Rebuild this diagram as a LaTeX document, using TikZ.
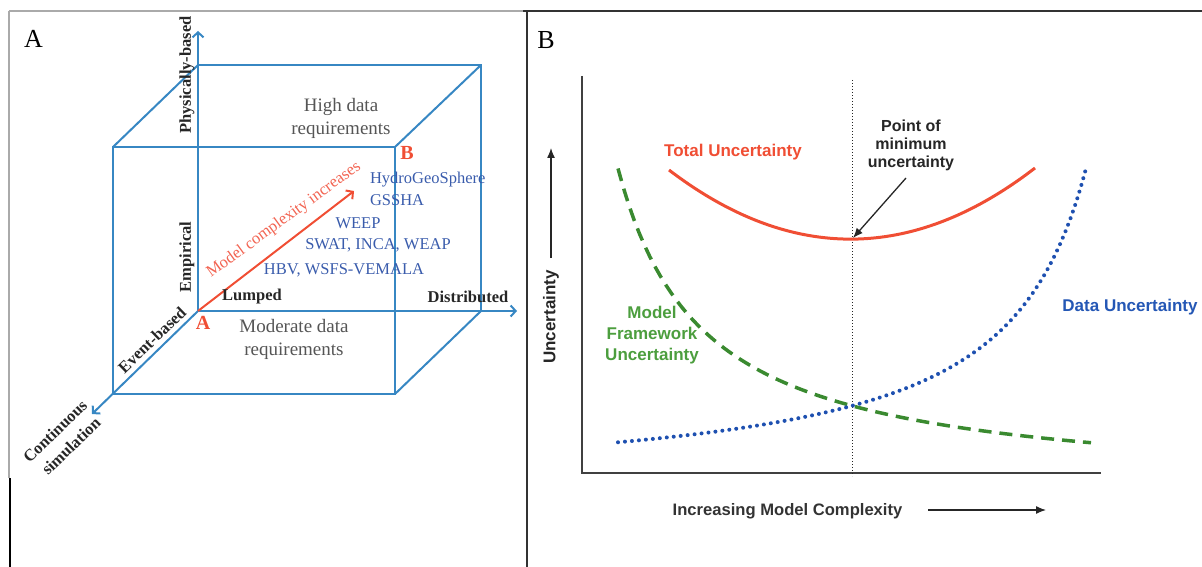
\documentclass[tikz,border=0pt]{standalone}
\usepackage{fontspec}
\setmainfont{Liberation Serif}
\setsansfont{Liberation Sans}
\usetikzlibrary{arrows.meta}

\definecolor{cubeblue}{RGB}{55,135,195}
\definecolor{modelblue}{RGB}{58,92,172}
\definecolor{redc}{RGB}{240,78,52}
\definecolor{redtext}{RGB}{242,100,82}
\definecolor{graytext}{RGB}{85,85,85}
\definecolor{greenline}{RGB}{58,138,48}
\definecolor{greentext}{RGB}{76,158,62}
\definecolor{dotblue}{RGB}{30,80,176}
\definecolor{bluetext}{RGB}{36,87,181}
\definecolor{framedark}{RGB}{50,50,50}
\definecolor{framelight}{RGB}{170,170,170}

\newcommand\setfs[2]{\fontsize{#1}{#2}\selectfont}

\begin{document}
\begin{tikzpicture}[x=1pt,y=-1pt,
  lbl/.style={inner sep=0pt,outer sep=0pt},
  panellbl/.style={lbl,font=\setfs{26}{30}},
  axislbl/.style={lbl,text=black!85,font=\setfs{16.5}{20}\bfseries},
  datareq/.style={lbl,align=center,text=graytext,font=\setfs{19}{23}},
  modellbl/.style={lbl,text=modelblue,font=\setfs{16.5}{20}},
  cornerlbl/.style={lbl,text=redc,font=\setfs{20}{24}\bfseries},
  sanslbl/.style={lbl,align=center,font=\sffamily\bfseries\setfs{17}{21}},
  cubeline/.style={draw=cubeblue,line width=2pt},
  cubeaxis/.style={cubeline,-{Straight Barb[length=5pt,width=11pt]}},
  plotaxis/.style={draw=black!75,line width=1.5pt},
  thinarrow/.style={draw=black!85,line width=1.3pt,-{Latex[length=10pt,width=8pt]}},
]
\useasboundingbox (0,0) rectangle (1202,567);

% ---------- frame ----------
\draw[framelight,line width=1.5pt] (9,11) -- (523,11);
\draw[framedark,line width=1.5pt] (523,11) -- (1202,11);
\draw[framedark,line width=1.5pt] (527,11) -- (527,567);
\draw[framelight,line width=2.5pt] (9,11) -- (9,478);
\draw[black,line width=1.5pt] (10,478) -- (10,567);

% ---------- panel A: model classification cube ----------
\coordinate (O)   at (198,311);
\coordinate (BTL) at (198,65);
\coordinate (BTR) at (481,65);
\coordinate (BBR) at (481,311);
\coordinate (FTL) at (113,147);
\coordinate (FTR) at (395,147);
\coordinate (FBR) at (395,394);
\coordinate (FBL) at (113,394);
\coordinate (ZT)  at (198,31);
\coordinate (XT)  at (517,311);
\coordinate (DT)  at (92,414);
\coordinate (RT)  at (354,191);

\draw[cubeline] (FTL) -- (FTR) -- (FBR) -- (FBL) -- cycle;
\draw[cubeline] (BTL) -- (BTR) -- (BBR);
\draw[cubeline] (FTL) -- (BTL);
\draw[cubeline] (FTR) -- (BTR);
\draw[cubeline] (FBR) -- (BBR);
\draw[cubeaxis] (O) -- (ZT);
\draw[cubeaxis] (O) -- (XT);
\draw[cubeaxis] (O) -- (DT);
\draw[draw=redc,line width=2pt,-{Straight Barb[length=5pt,width=11pt]}] (O) -- (RT);

\node[panellbl] (pA) at (33.5,39) {A};
\node[axislbl,rotate=90] (phys) at (187,75) {Physically-based};
\node[axislbl,rotate=90] (emp) at (187,257) {Empirical};
\node[axislbl] (lumped) at (252,297) {Lumped};
\node[axislbl] (distr) at (468,297) {Distributed};
\node[axislbl,rotate=44] (event) at (152,340) {Event-based};
\node[axislbl,rotate=44] (cont1) at (55,431) {Continuous};
\node[axislbl,rotate=44] (cont2) at (71,446) {simulation};
\node[datareq] (high) at (341,118) {High data\\requirements};
\node[datareq] (moder) at (294,339) {Moderate data\\requirements};
\node[cornerlbl] (cB) at (407,153) {B};
\node[cornerlbl] (cA) at (203,323) {A};
\node[lbl,rotate=36,text=redtext,font=\setfs{16.5}{20}] (mci) at (284,220) {Model complexity increases};
\node[modellbl,anchor=west] (hgs) at (370,180) {HydroGeoSphere};
\node[modellbl,anchor=west] (gssha) at (370,200) {GSSHA};
\node[modellbl] (weep) at (358,223) {WEEP};
\node[modellbl] (swat) at (378,245) {SWAT, INCA, WEAP};
\node[modellbl] (hbv) at (344,270) {HBV, WSFS-VEMALA};

% ---------- panel B: uncertainty vs. complexity ----------
\node[panellbl] (pB) at (546,40) {B};

\coordinate (yaxTop) at (582,76);
\coordinate (orig)   at (582,473);
\coordinate (xaxEnd) at (1101,473);
\draw[plotaxis] (yaxTop) -- (orig) -- (xaxEnd);

\coordinate (vTop) at (852,80);
\coordinate (vBot) at (852,476);
\draw[black!85,line width=1pt,dash pattern=on 1pt off 2pt] (vTop) -- (vBot);

% total uncertainty (parabola)
\draw[redc,line width=3pt] (669,170) .. controls (791,263) and (913,262) .. (1035,168);
% model framework uncertainty (decreasing)
\draw[greenline,line width=3.5pt,dash pattern=on 13pt off 8pt]
  plot[domain=618:1091,samples=90] (\x,{492-275/((\x-533)/100)});
% data uncertainty (increasing)
\draw[dotblue,line width=4pt,line cap=round,dash pattern=on 0pt off 7pt]
  plot[domain=618:1086,samples=90] (\x,{492-275/((1171-\x)/100)});

\node[sanslbl,text=redc] (tot) at (733,152) {Total Uncertainty};
\node[sanslbl,text=black!85,font=\sffamily\bfseries\setfs{16}{18}] (pmin) at (911,145) {Point of\\minimum\\uncertainty};
\coordinate (pminStart) at (906,178);
\coordinate (minpt) at (853,238);
\draw[thinarrow] (pminStart) -- (minpt);

\node[sanslbl,text=greentext] (mfu) at (652,335) {Model\\Framework\\Uncertainty};
\node[sanslbl,text=bluetext] (du) at (1130,307) {Data Uncertainty};

\node[sanslbl,text=black!85,rotate=90] (unc) at (551,317) {Uncertainty};
\coordinate (uArrBot) at (551,258);
\coordinate (uArrTop) at (551,148);
\draw[thinarrow] (uArrBot) -- (uArrTop);

\node[sanslbl,text=black!80,font=\sffamily\bfseries\setfs{16.6}{20}] (imc) at (787.5,511) {Increasing Model Complexity};
\coordinate (cArrL) at (928,510);
\coordinate (cArrR) at (1046,510);
\draw[thinarrow] (cArrL) -- (cArrR);

\end{tikzpicture}
\end{document}
